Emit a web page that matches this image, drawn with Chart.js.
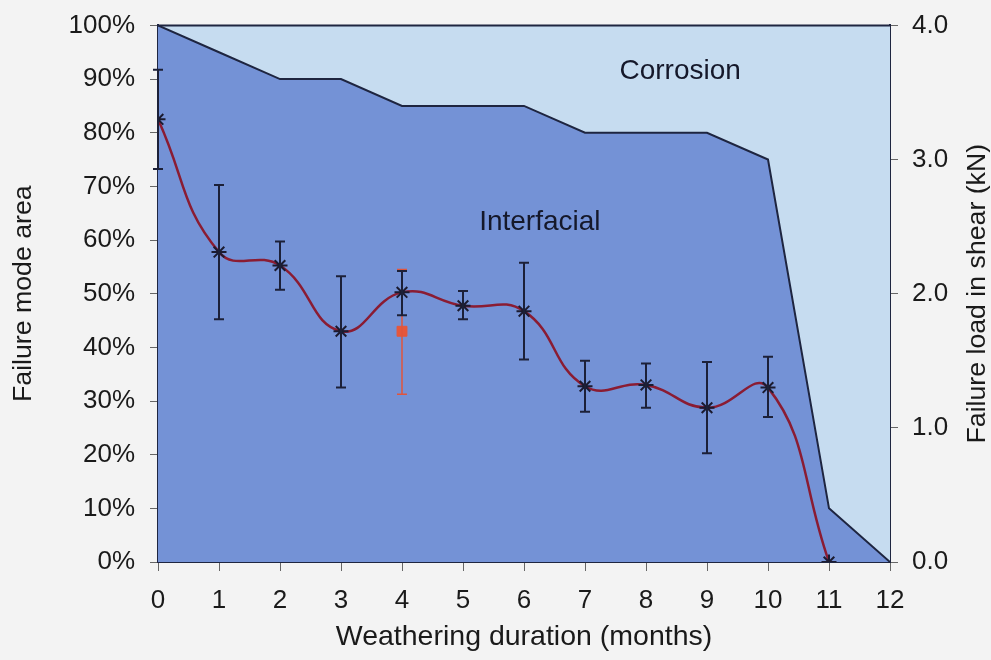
<!DOCTYPE html>
<html>
<head>
<meta charset="utf-8">
<script src="https://cdn.jsdelivr.net/npm/chart.js@4"></script>
<style>
  html, body { margin: 0; padding: 0; background: #f3f3f3; }
  #wrap { width: 991px; height: 660px; position: relative; }
</style>
</head>
<body>
<div id="wrap"><canvas id="chart"></canvas></div>
<script>
// months on the x axis
const months = [0, 1, 2, 3, 4, 5, 6, 7, 8, 9, 10, 11, 12];
// failure mode area (%), stacked
const interfacial = [100, 95, 90, 90, 85, 85, 85, 80, 80, 80, 75, 10, 0];
const corrosion = [0, 5, 10, 10, 15, 15, 15, 20, 20, 20, 25, 90, 100];
// failure load in shear (kN) with error bars
const loadMonths = [0, 1, 2, 3, 4, 5, 6, 7, 8, 9, 10, 11];
const load = [3.30, 2.31, 2.21, 1.72, 2.01, 1.91, 1.87, 1.31, 1.32, 1.15, 1.30, 0];
const loadHi = [3.67, 2.81, 2.39, 2.13, 2.17, 2.02, 2.23, 1.50, 1.48, 1.49, 1.53, null];
const loadLo = [2.93, 1.81, 2.03, 1.30, 1.84, 1.81, 1.51, 1.12, 1.15, 0.81, 1.08, null];
// single extra (red) measurement
const extraMonth = [4];
const extraLoad = [1.72];
const extraHi = [2.18];
const extraLo = [1.25];
// text labels inside the plot: [text, month, percent]
const areaLabels = [['Corrosion', 8.56, 91.5], ['Interfacial', 6.26, 63.3]];
const rightTitle = 'Failure load in shear (kN)';

const FONT = 'Liberation Sans, Arial, sans-serif';
const DARK = '#1e2540';

// draws error bars, the plot frame, the area labels and the right axis title
const extrasPlugin = {
  id: 'extras',
  afterDatasetsDraw(chart) {
    const { ctx, chartArea: a, scales: { x, y, y1 } } = chart;
    const bar = (xv, lo, hi, color, w) => {
      const px = x.getPixelForValue(xv);
      const pl = y1.getPixelForValue(lo);
      const ph = y1.getPixelForValue(hi);
      ctx.save();
      ctx.strokeStyle = color;
      ctx.lineWidth = w;
      ctx.beginPath();
      ctx.moveTo(px, pl); ctx.lineTo(px, ph);
      ctx.moveTo(px - 5, pl); ctx.lineTo(px + 5, pl);
      ctx.moveTo(px - 5, ph); ctx.lineTo(px + 5, ph);
      ctx.stroke();
      ctx.restore();
    };
    extraMonth.forEach((m, i) => bar(m, extraLo[i], extraHi[i], '#e0553d', 1.5));
    loadMonths.forEach((m, i) => {
      if (loadHi[i] != null) bar(m, loadLo[i], loadHi[i], '#1c2038', 2);
    });

    ctx.save();
    ctx.strokeStyle = DARK;
    ctx.lineWidth = 2;
    ctx.beginPath();
    ctx.moveTo(a.left, a.top); ctx.lineTo(a.right, a.top);
    ctx.stroke();
    ctx.fillStyle = '#15182a';
    ctx.font = '28px ' + FONT;
    ctx.textAlign = 'center';
    ctx.textBaseline = 'middle';
    areaLabels.forEach(([t, m, p]) => {
      ctx.fillText(t, x.getPixelForValue(m), y.getPixelForValue(p));
    });
    // right title reads bottom to top like the left one
    ctx.fillStyle = '#1a1a1a';
    ctx.font = '26.7px ' + FONT;
    ctx.translate(978, (a.top + a.bottom) / 2);
    ctx.rotate(-Math.PI / 2);
    ctx.fillText(rightTitle, 0, 0);
    ctx.restore();
  }
};

const ctx = document.getElementById('chart').getContext('2d');

new Chart(ctx, {
  data: {
    datasets: [
      {
        type: 'line',
        label: 'Interfacial',
        data: months.map((m, i) => ({ x: m, y: interfacial[i] })),
        yAxisID: 'y',
        stack: 'area',
        fill: 'origin',
        backgroundColor: '#7492d6',
        borderColor: DARK,
        borderWidth: 2,
        pointRadius: 0,
        tension: 0,
        order: 5
      },
      {
        type: 'line',
        label: 'Corrosion',
        data: months.map((m, i) => ({ x: m, y: corrosion[i] })),
        yAxisID: 'y',
        stack: 'area',
        fill: '-1',
        backgroundColor: '#c6dcf0',
        borderWidth: 0,
        pointRadius: 0,
        tension: 0,
        order: 6
      },
      {
        type: 'line',
        label: 'Failure load',
        data: loadMonths.map((m, i) => ({ x: m, y: load[i] })),
        yAxisID: 'y1',
        borderColor: '#8a1c33',
        borderWidth: 2.5,
        tension: 0.45,
        pointStyle: 'star',
        pointRadius: 7.5,
        pointBorderColor: '#1b1b30',
        pointBorderWidth: 2,
        fill: false,
        order: 1
      },
      {
        type: 'scatter',
        label: 'Extra',
        data: extraMonth.map((m, i) => ({ x: m, y: extraLoad[i] })),
        yAxisID: 'y1',
        pointStyle: 'rect',
        pointRadius: 7,
        backgroundColor: '#e5573c',
        borderColor: '#e5573c',
        order: 0
      }
    ]
  },
  options: {
    responsive: true,
    maintainAspectRatio: false,
    animation: false,
    layout: { padding: { top: 20, left: 0, right: 0, bottom: 0 } },
    plugins: {
      legend: { display: false },
      tooltip: { enabled: false }
    },
    scales: {
      x: {
        type: 'linear',
        min: 0,
        max: 12,
        ticks: { stepSize: 1, color: '#1a1a1a', font: { family: FONT, size: 26 }, padding: 14, maxRotation: 0 },
        grid: { drawOnChartArea: false, tickLength: 9, tickColor: '#666' },
        border: { color: DARK, width: 2 },
        title: {
          display: true,
          text: 'Weathering duration (months)',
          color: '#1a1a1a',
          font: { family: FONT, size: 28.5, lineHeight: 1 },
          padding: { top: 0, bottom: 9 }
        },
        afterFit: s => { s.height = 98; }
      },
      y: {
        position: 'left',
        stacked: true,
        min: 0,
        max: 100,
        ticks: { stepSize: 10, color: '#1a1a1a', font: { family: FONT, size: 26, lineHeight: 0.8 }, padding: 15, callback: v => v + '%' },
        grid: { drawOnChartArea: false, tickLength: 8, tickColor: '#666' },
        border: { color: DARK, width: 2 },
        title: {
          display: true,
          text: 'Failure mode area',
          color: '#1a1a1a',
          font: { family: FONT, size: 26.7, lineHeight: 1 },
          padding: { top: 10, bottom: 0 }
        },
        afterFit: s => { s.width = 158; }
      },
      y1: {
        position: 'right',
        min: 0,
        max: 4,
        ticks: { stepSize: 1, color: '#1a1a1a', font: { family: FONT, size: 26, lineHeight: 0.8 }, padding: 14, callback: v => v.toFixed(1) },
        grid: { drawOnChartArea: false, tickLength: 8, tickColor: '#666' },
        border: { color: DARK, width: 2 },
        afterFit: s => { s.width = 101; }
      }
    }
  },
  plugins: [extrasPlugin]
});
</script>
</body>
</html>
